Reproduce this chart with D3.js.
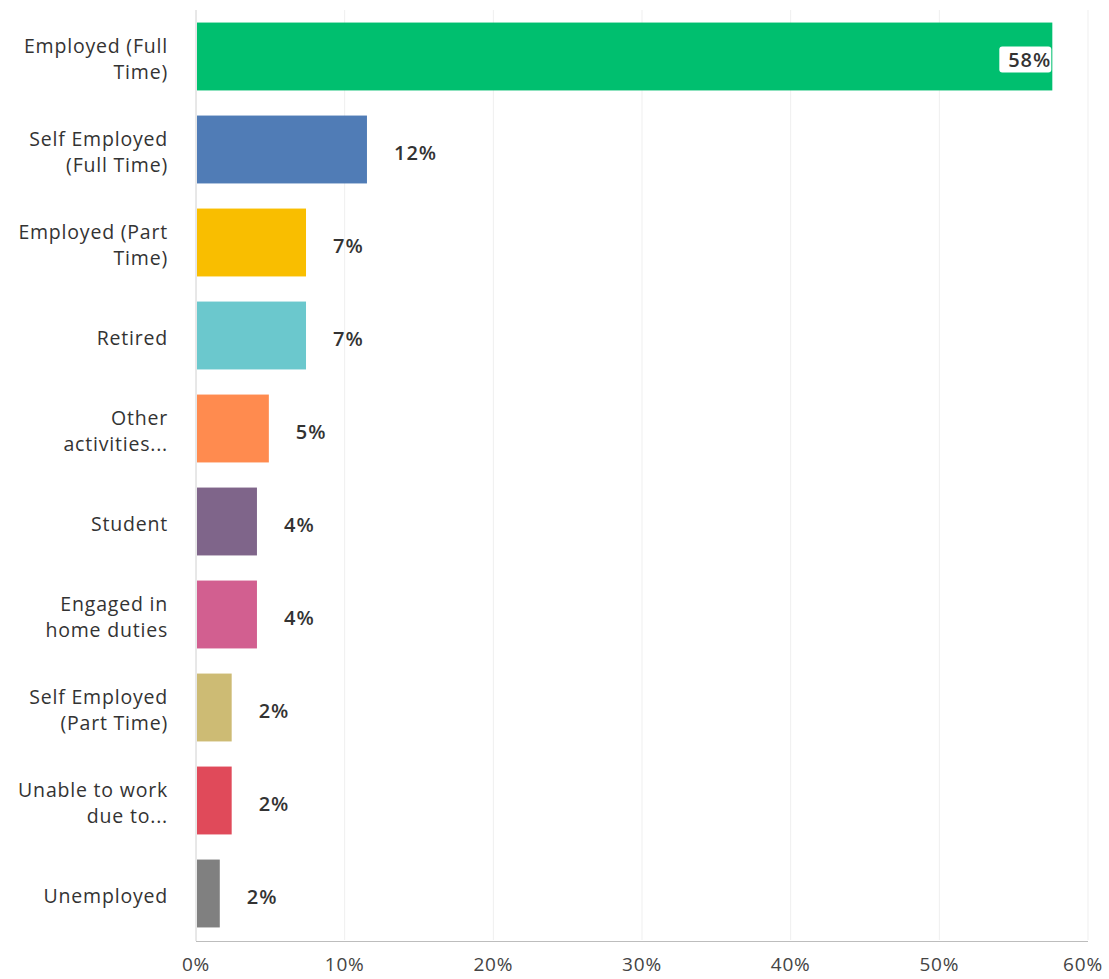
<!DOCTYPE html>
<html>
<head>
<meta charset="utf-8">
<script src="https://cdn.jsdelivr.net/npm/d3@7"></script>
<style>
  body { margin: 0; background: #fff; }
  svg { display: block; }
</style>
</head>
<body>
<svg id="chart"></svg>
<script>
// answer choices, one line per label row
var categories = [
  ["Employed (Full", "Time)"],
  ["Self Employed", "(Full Time)"],
  ["Employed (Part", "Time)"],
  ["Retired"],
  ["Other", "activities..."],
  ["Student"],
  ["Engaged in", "home duties"],
  ["Self Employed", "(Part Time)"],
  ["Unable to work", "due to..."],
  ["Unemployed"]
];
var values = [57.6, 11.5, 7.4, 7.4, 4.9, 4.1, 4.1, 2.4, 2.4, 1.6];
var valueLabels = ["58%", "12%", "7%", "7%", "5%", "4%", "4%", "2%", "2%", "2%"];
var colors = ["#00bf6f", "#507cb6", "#f9be00", "#6bc8cd", "#ff8b4f", "#7f658a", "#d25f90", "#cdbb74", "#e04a5a", "#808080"];
var ticks = [0, 10, 20, 30, 40, 50, 60];

var width = 1109, height = 979;
var svg = d3.select("#chart").attr("width", width).attr("height", height);

var x = d3.scaleLinear().domain([0, 60]).range([196, 1088]);
var y = d3.scaleBand()
    .domain(d3.range(categories.length))
    .range([10, 940])
    .paddingInner(0.27)
    .paddingOuter(0.135);

// grid lines
svg.append("g")
  .selectAll("line")
  .data(ticks.slice(1))
  .enter()
  .append("line")
  .attr("x1", function(d){ return x(d); })
  .attr("x2", function(d){ return x(d); })
  .attr("y1", 10)
  .attr("y2", 940)
  .attr("stroke", "#efefef")
  .attr("stroke-width", 1);

// bars
svg.append("g")
  .selectAll("rect")
  .data(values)
  .enter()
  .append("rect")
  .attr("x", x(0) + 1)
  .attr("y", function(d, i){ return y(i); })
  .attr("width", function(d){ return x(d) - x(0) - 1; })
  .attr("height", y.bandwidth())
  .attr("fill", function(d, i){ return colors[i]; });

// axis lines
svg.append("line")
  .attr("x1", x(0)).attr("x2", x(0))
  .attr("y1", 10).attr("y2", 941)
  .attr("stroke", "#d0d0d0");
svg.append("line")
  .attr("x1", x(0)).attr("x2", x(60))
  .attr("y1", 941.5).attr("y2", 941.5)
  .attr("stroke", "#bdbdbd");

// x tick labels
svg.append("g")
  .selectAll("text")
  .data(ticks)
  .enter()
  .append("text")
  .attr("x", function(d){ return Math.min(x(d), 1083); })
  .attr("y", 971)
  .attr("text-anchor", "middle")
  .attr("font-family", "Open Sans")
  .attr("font-size", 19)
  .attr("letter-spacing", 0.8)
  .attr("fill", "#444")
  .text(function(d){ return d + "%"; });

// category labels
var lab = svg.append("g")
  .selectAll("text")
  .data(categories)
  .enter()
  .append("text")
  .attr("text-anchor", "end")
  .attr("font-family", "Open Sans")
  .attr("font-size", 19.5)
  .attr("letter-spacing", 0.8)
  .attr("fill", "#333")
  .attr("y", function(d, i){
      var c = y(i) + y.bandwidth() / 2;
      return c - (d.length - 1) * 13 + 9;
  });
lab.selectAll("tspan")
  .data(function(d){ return d; })
  .enter()
  .append("tspan")
  .attr("x", 168)
  .attr("dy", function(d, i){ return i == 0 ? 0 : 26; })
  .text(function(d){ return d; });

// value labels
var vl = svg.append("g")
  .selectAll("g")
  .data(values)
  .enter()
  .append("g")
  .attr("transform", function(d, i){
      var inside = d > 40;
      var tx = inside ? x(d) - 1 : x(d) + 27;
      return "translate(" + tx + "," + (y(i) + y.bandwidth() / 2 + 10) + ")";
  });

vl.filter(function(d){ return d > 40; })
  .append("rect")
  .attr("x", -52)
  .attr("y", -20)
  .attr("width", 52)
  .attr("height", 26)
  .attr("rx", 3)
  .attr("fill", "#fff");

vl.append("text")
  .attr("text-anchor", function(d){ return d > 40 ? "end" : "start"; })
  .attr("font-family", "Open Sans")
  .attr("font-weight", 600)
  .attr("font-size", 20)
  .attr("letter-spacing", 1)
  .attr("fill", "#333")
  .text(function(d, i){ return valueLabels[i]; });
</script>
</body>
</html>
